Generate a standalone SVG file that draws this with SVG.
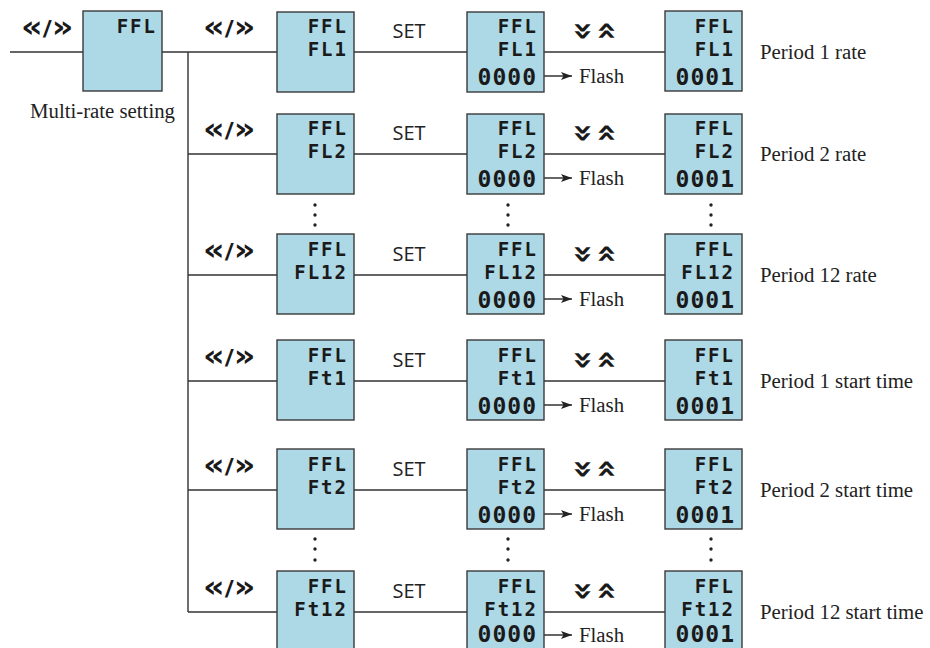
<svg xmlns="http://www.w3.org/2000/svg" width="930" height="648" viewBox="0 0 930 648">
<style>
.box{fill:#add8e6;stroke:#3a3a3a;stroke-width:1.4}
.ln{fill:none;stroke:#333;stroke-width:1.4}
.seg{font-family:"DejaVu Sans Mono",monospace;font-weight:bold;font-size:19px;letter-spacing:2px;fill:#1a1a1a;text-anchor:end}
.dig{font-family:"DejaVu Sans Mono",monospace;font-weight:bold;font-size:23px;letter-spacing:1px;fill:#1a1a1a;text-anchor:end}
.nav{font-family:"DejaVu Sans",sans-serif;font-weight:bold;font-size:30px;fill:#1a1a1a}
.set{font-family:"Open Sans",sans-serif;font-size:20px;fill:#222;text-anchor:middle}
.ser{font-family:"Liberation Serif",serif;font-size:20.8px;fill:#222}
.chev{font-family:"DejaVu Sans",sans-serif;font-weight:bold;font-size:30px;fill:#1a1a1a;text-anchor:middle}
.dot{fill:#222}
</style>
<defs>
<marker id="ah" markerUnits="userSpaceOnUse" markerWidth="12" markerHeight="8" refX="11" refY="4" orient="auto">
<path d="M0,0 L11,4 L0,8 L2.5,4 Z" fill="#222"/>
</marker>
</defs>

<g id="connectors">
<path class="ln" d="M10,52 H83 M162,52 H277 M188,52 V612"/>
<path class="ln" d="M188,154 H277 M188,275 H277 M188,381 H277 M188,490 H277 M188,612 H277"/>
<path class="ln" d="M354,52 H467 M354,154 H467 M354,275 H467 M354,381 H467 M354,490 H467 M354,612 H467"/>
<path class="ln" d="M544,52 H665 M544,154 H665 M544,275 H665 M544,381 H665 M544,490 H665 M544,612 H665"/>
<g marker-end="url(#ah)" class="ln">
<path d="M537,76 H572"/><path d="M537,178 H572"/><path d="M537,299 H572"/><path d="M537,405 H572"/><path d="M537,514 H572"/><path d="M537,635 H572"/>
</g>
</g>

<g id="labels">
<text class="nav" transform="translate(21,37) scale(1.12,1)">«<tspan font-size="22" dy="-1">/</tspan><tspan dy="1">»</tspan></text>
<text class="ser" x="30" y="118">Multi-rate setting</text>
</g>

<g id="node-ffl">
<rect class="box" x="83" y="11" width="79" height="80"/>
<text class="seg" x="157" y="33">FFL</text>
</g>

<g id="row1">
<text class="nav" transform="translate(203,37) scale(1.12,1)">«<tspan font-size="22" dy="-1">/</tspan><tspan dy="1">»</tspan></text>
<g id="fl1-a"><rect class="box" x="277" y="12" width="77" height="80"/><text class="seg" x="348" y="33">FFL</text><text class="seg" x="348" y="56">FL1</text></g>
<text class="set" x="409" y="38">SET</text>
<g id="fl1-b"><rect class="box" x="467" y="12" width="77" height="80"/><text class="seg" x="538" y="33">FFL</text><text class="seg" x="538" y="56">FL1</text><text class="dig" x="537" y="85">0000</text></g>
<text class="ser" x="579" y="83">Flash</text>
<text class="chev" transform="translate(583,31) rotate(-90) scale(1,1.2)" y="8">«</text>
<text class="chev" transform="translate(606,31) rotate(90) scale(1,1.2)" y="8">«</text>
<g id="fl1-c"><rect class="box" x="665" y="11" width="77" height="80"/><text class="seg" x="735" y="33">FFL</text><text class="seg" x="735" y="56">FL1</text><text class="dig" x="735" y="85">0001</text></g>
<text class="ser" x="760" y="59">Period 1 rate</text>
</g>

<g id="row2">
<text class="nav" transform="translate(203,139) scale(1.12,1)">«<tspan font-size="22" dy="-1">/</tspan><tspan dy="1">»</tspan></text>
<g id="fl2-a"><rect class="box" x="277" y="114" width="77" height="80"/><text class="seg" x="348" y="135">FFL</text><text class="seg" x="348" y="158">FL2</text></g>
<text class="set" x="409" y="140">SET</text>
<g id="fl2-b"><rect class="box" x="467" y="114" width="77" height="80"/><text class="seg" x="538" y="135">FFL</text><text class="seg" x="538" y="158">FL2</text><text class="dig" x="537" y="187">0000</text></g>
<text class="ser" x="579" y="185">Flash</text>
<text class="chev" transform="translate(583,133) rotate(-90) scale(1,1.2)" y="8">«</text>
<text class="chev" transform="translate(606,133) rotate(90) scale(1,1.2)" y="8">«</text>
<g id="fl2-c"><rect class="box" x="665" y="114" width="77" height="80"/><text class="seg" x="735" y="135">FFL</text><text class="seg" x="735" y="158">FL2</text><text class="dig" x="735" y="187">0001</text></g>
<text class="ser" x="760" y="161">Period 2 rate</text>
</g>

<g id="dots1">
<circle class="dot" cx="315" cy="205" r="1.7"/><circle class="dot" cx="315" cy="215" r="1.7"/><circle class="dot" cx="315" cy="225" r="1.7"/>
<circle class="dot" cx="508" cy="205" r="1.7"/><circle class="dot" cx="508" cy="215" r="1.7"/><circle class="dot" cx="508" cy="225" r="1.7"/>
<circle class="dot" cx="711" cy="205" r="1.7"/><circle class="dot" cx="711" cy="215" r="1.7"/><circle class="dot" cx="711" cy="225" r="1.7"/>
</g>

<g id="row3">
<text class="nav" transform="translate(203,260) scale(1.12,1)">«<tspan font-size="22" dy="-1">/</tspan><tspan dy="1">»</tspan></text>
<g id="fl12-a"><rect class="box" x="277" y="234" width="77" height="80"/><text class="seg" x="348" y="256">FFL</text><text class="seg" x="348" y="279">FL12</text></g>
<text class="set" x="409" y="261">SET</text>
<g id="fl12-b"><rect class="box" x="467" y="234" width="77" height="80"/><text class="seg" x="538" y="256">FFL</text><text class="seg" x="538" y="279">FL12</text><text class="dig" x="537" y="308">0000</text></g>
<text class="ser" x="579" y="306">Flash</text>
<text class="chev" transform="translate(583,254) rotate(-90) scale(1,1.2)" y="8">«</text>
<text class="chev" transform="translate(606,254) rotate(90) scale(1,1.2)" y="8">«</text>
<g id="fl12-c"><rect class="box" x="665" y="234" width="77" height="80"/><text class="seg" x="735" y="256">FFL</text><text class="seg" x="735" y="279">FL12</text><text class="dig" x="735" y="308">0001</text></g>
<text class="ser" x="760" y="282">Period 12 rate</text>
</g>

<g id="row4">
<text class="nav" transform="translate(203,366) scale(1.12,1)">«<tspan font-size="22" dy="-1">/</tspan><tspan dy="1">»</tspan></text>
<g id="ft1-a"><rect class="box" x="277" y="340" width="77" height="80"/><text class="seg" x="348" y="362">FFL</text><text class="seg" x="348" y="385">Ft1</text></g>
<text class="set" x="409" y="367">SET</text>
<g id="ft1-b"><rect class="box" x="467" y="340" width="77" height="80"/><text class="seg" x="538" y="362">FFL</text><text class="seg" x="538" y="385">Ft1</text><text class="dig" x="537" y="414">0000</text></g>
<text class="ser" x="579" y="412">Flash</text>
<text class="chev" transform="translate(583,360) rotate(-90) scale(1,1.2)" y="8">«</text>
<text class="chev" transform="translate(606,360) rotate(90) scale(1,1.2)" y="8">«</text>
<g id="ft1-c"><rect class="box" x="665" y="340" width="77" height="80"/><text class="seg" x="735" y="362">FFL</text><text class="seg" x="735" y="385">Ft1</text><text class="dig" x="735" y="414">0001</text></g>
<text class="ser" x="760" y="388">Period 1 start time</text>
</g>

<g id="row5">
<text class="nav" transform="translate(203,475) scale(1.12,1)">«<tspan font-size="22" dy="-1">/</tspan><tspan dy="1">»</tspan></text>
<g id="ft2-a"><rect class="box" x="277" y="449" width="77" height="80"/><text class="seg" x="348" y="471">FFL</text><text class="seg" x="348" y="494">Ft2</text></g>
<text class="set" x="409" y="476">SET</text>
<g id="ft2-b"><rect class="box" x="467" y="449" width="77" height="80"/><text class="seg" x="538" y="471">FFL</text><text class="seg" x="538" y="494">Ft2</text><text class="dig" x="537" y="523">0000</text></g>
<text class="ser" x="579" y="521">Flash</text>
<text class="chev" transform="translate(583,469) rotate(-90) scale(1,1.2)" y="8">«</text>
<text class="chev" transform="translate(606,469) rotate(90) scale(1,1.2)" y="8">«</text>
<g id="ft2-c"><rect class="box" x="665" y="449" width="77" height="80"/><text class="seg" x="735" y="471">FFL</text><text class="seg" x="735" y="494">Ft2</text><text class="dig" x="735" y="523">0001</text></g>
<text class="ser" x="760" y="497">Period 2 start time</text>
</g>

<g id="dots2">
<circle class="dot" cx="315" cy="539" r="1.7"/><circle class="dot" cx="315" cy="549" r="1.7"/><circle class="dot" cx="315" cy="560" r="1.7"/>
<circle class="dot" cx="508" cy="539" r="1.7"/><circle class="dot" cx="508" cy="549" r="1.7"/><circle class="dot" cx="508" cy="560" r="1.7"/>
<circle class="dot" cx="711" cy="539" r="1.7"/><circle class="dot" cx="711" cy="549" r="1.7"/><circle class="dot" cx="711" cy="560" r="1.7"/>
</g>

<g id="row6">
<text class="nav" transform="translate(203,597) scale(1.12,1)">«<tspan font-size="22" dy="-1">/</tspan><tspan dy="1">»</tspan></text>
<g id="ft12-a"><rect class="box" x="277" y="571" width="77" height="80"/><text class="seg" x="348" y="593">FFL</text><text class="seg" x="348" y="616">Ft12</text></g>
<text class="set" x="409" y="598">SET</text>
<g id="ft12-b"><rect class="box" x="467" y="571" width="77" height="80"/><text class="seg" x="538" y="593">FFL</text><text class="seg" x="538" y="616">Ft12</text><text class="dig" x="537" y="642">0000</text></g>
<text class="ser" x="579" y="642">Flash</text>
<text class="chev" transform="translate(583,591) rotate(-90) scale(1,1.2)" y="8">«</text>
<text class="chev" transform="translate(606,591) rotate(90) scale(1,1.2)" y="8">«</text>
<g id="ft12-c"><rect class="box" x="665" y="571" width="77" height="80"/><text class="seg" x="735" y="593">FFL</text><text class="seg" x="735" y="616">Ft12</text><text class="dig" x="735" y="642">0001</text></g>
<text class="ser" x="760" y="619">Period 12 start time</text>
</g>
</svg>
